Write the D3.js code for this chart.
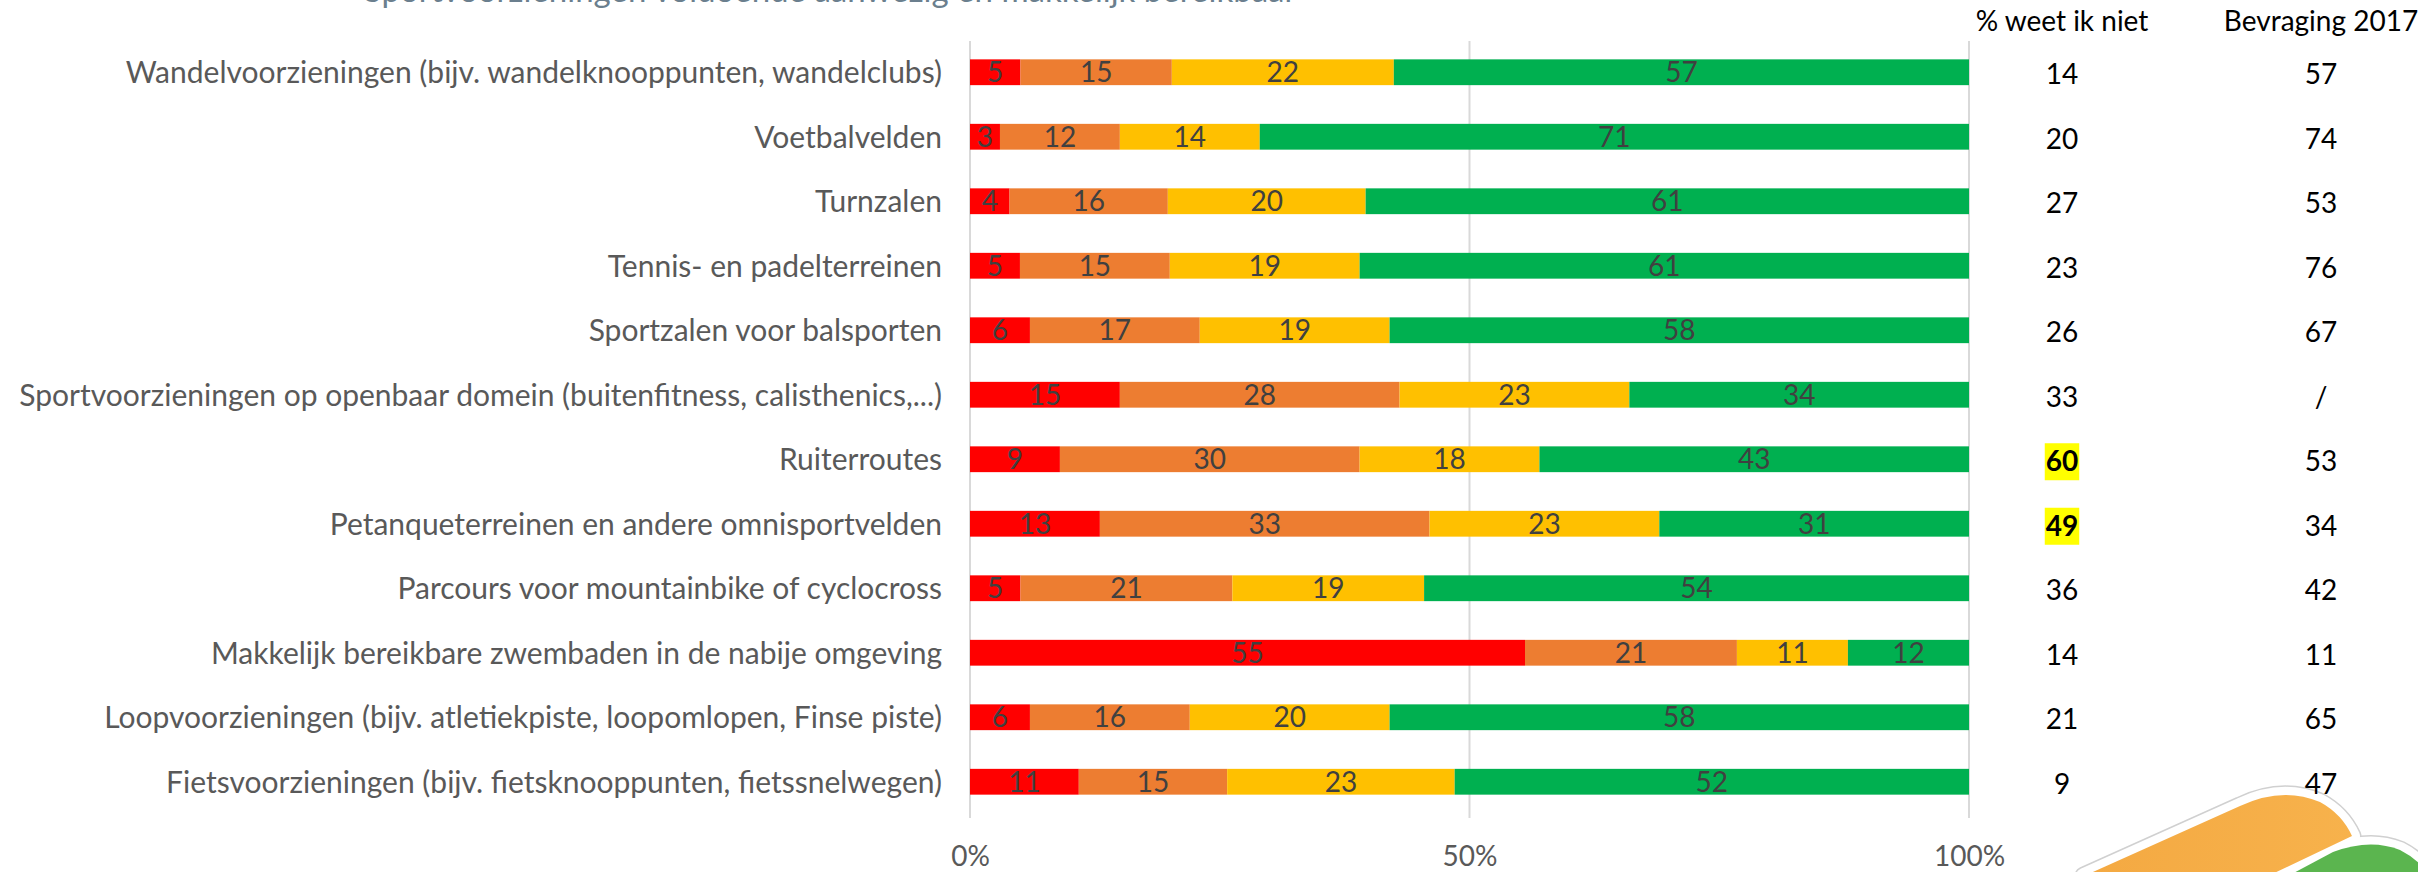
<!DOCTYPE html>
<html>
<head>
<meta charset="utf-8">
<script src="https://cdn.jsdelivr.net/npm/d3@7/dist/d3.min.js"></script>
<style>
  html, body { margin: 0; padding: 0; background: #ffffff; }
  svg { display: block; }
  text { font-family: Lato, "Open Sans", "Liberation Sans", sans-serif; }
</style>
</head>
<body>
<svg id="chart" width="2418" height="872"></svg>
<script>
// ---------- DATA ----------
const title = "Sportvoorzieningen voldoende aanwezig en makkelijk bereikbaar";
const categories = [
  "Wandelvoorzieningen (bijv. wandelknooppunten, wandelclubs)",
  "Voetbalvelden",
  "Turnzalen",
  "Tennis- en padelterreinen",
  "Sportzalen voor balsporten",
  "Sportvoorzieningen op openbaar domein (buitenfitness, calisthenics,...)",
  "Ruiterroutes",
  "Petanqueterreinen en andere omnisportvelden",
  "Parcours voor mountainbike of cyclocross",
  "Makkelijk bereikbare zwembaden in de nabije omgeving",
  "Loopvoorzieningen (bijv. atletiekpiste, loopomlopen, Finse piste)",
  "Fietsvoorzieningen (bijv. fietsknooppunten, fietssnelwegen)"
];
const seriesKeys = ["helemaalNiet", "eerderNiet", "eerderWel", "helemaalWel"];
const helemaalNiet = [5, 3, 4, 5, 6, 15, 9, 13, 5, 55, 6, 11];
const eerderNiet   = [15, 12, 16, 15, 17, 28, 30, 33, 21, 21, 16, 15];
const eerderWel    = [22, 14, 20, 19, 19, 23, 18, 23, 19, 11, 20, 23];
const helemaalWel  = [57, 71, 61, 61, 58, 34, 43, 31, 54, 12, 58, 52];
const weetIkNiet   = [14, 20, 27, 23, 26, 33, 60, 49, 36, 14, 21, 9];
const weetHighlight = [false, false, false, false, false, false, true, true, false, false, false, false];
const bevraging2017 = ["57", "74", "53", "76", "67", "/", "53", "34", "42", "11", "65", "47"];
const xTickValues = [0, 0.5, 1];
const xTickLabels = ["0%", "50%", "100%"];
const colHeaders = ["% weet ik niet", "Bevraging 2017"];

// ---------- STYLE / LAYOUT ----------
const colors = { helemaalNiet: "#FF0000", eerderNiet: "#ED7D31", eerderWel: "#FFC000", helemaalWel: "#00B050" };
const svg = d3.select("#chart");

// decorative logo (bottom right), drawn first so the texts stay on top
const defs = svg.append("defs");
const og = defs.append("linearGradient").attr("id", "og").attr("x1", "0").attr("x2", "1");
og.append("stop").attr("offset", "0").attr("stop-color", "#F4A942");
og.append("stop").attr("offset", "1").attr("stop-color", "#F7B24C");
const logo = svg.append("g");
const orangePath = "M2084,876 L2240,806 Q2282,786 2320,802 Q2342,814 2352,836 L2268,876 Z";
const greenPath = "M2288,876 L2333,852 Q2370,838 2400,850 Q2418,859 2430,876 Z";
[orangePath, greenPath].forEach(p => {
  logo.append("path").attr("d", p).attr("fill", "none").attr("stroke", "#d0d0d0").attr("stroke-width", 19).attr("stroke-linejoin", "round");
});
[orangePath, greenPath].forEach(p => {
  logo.append("path").attr("d", p).attr("fill", "#fff").attr("stroke", "#ffffff").attr("stroke-width", 16).attr("stroke-linejoin", "round");
});
logo.append("path").attr("d", orangePath).attr("fill", "url(#og)");
logo.append("path").attr("d", greenPath).attr("fill", "#5BB54F");

const rows = categories.map((c, i) => ({
  cat: c,
  helemaalNiet: helemaalNiet[i], eerderNiet: eerderNiet[i],
  eerderWel: eerderWel[i], helemaalWel: helemaalWel[i]
}));

const x = d3.scaleLinear().domain([0, 1]).range([970, 1969]);
const y = d3.scaleBand().domain(categories).range([40, 814]).paddingInner(0.6).paddingOuter(0.3);

// title (cut off at the top in the original)
svg.append("text")
  .attr("x", 364).attr("y", 2)
  .attr("font-size", 33)
  .attr("fill", "#6b7f8e")
  .text(title);

// gridlines
svg.append("g").selectAll("line")
  .data(xTickValues).join("line")
  .attr("x1", d => x(d)).attr("x2", d => x(d))
  .attr("y1", 41).attr("y2", 818)
  .attr("stroke", "#d9d9d9").attr("stroke-width", 2);

// x axis labels
const xAxis = d3.axisBottom(x).tickValues(xTickValues).tickFormat((d, i) => xTickLabels[i]).tickSize(0).tickPadding(0);
const gx = svg.append("g").attr("transform", "translate(0,846)").call(xAxis);
gx.select(".domain").remove();
gx.selectAll("text")
  .attr("font-family", "Lato, 'Open Sans', sans-serif")
  .attr("font-size", 28).attr("fill", "#595959").attr("dy", "0.71em");

// stacked bars
const stack = d3.stack().keys(seriesKeys).offset(d3.stackOffsetExpand);
const stacked = stack(rows);

const layers = svg.append("g").selectAll("g")
  .data(stacked).join("g")
  .attr("fill", d => colors[d.key]);

layers.selectAll("rect")
  .data(d => d.map(p => ({ p, key: d.key })))
  .join("rect")
  .attr("x", d => x(d.p[0]))
  .attr("width", d => x(d.p[1]) - x(d.p[0]))
  .attr("y", d => y(d.p.data.cat))
  .attr("height", y.bandwidth());

// data labels
const labels = svg.append("g");
stacked.forEach(layer => {
  labels.selectAll(null)
    .data(layer).join("text")
    .attr("x", p => (x(p[0]) + x(p[1])) / 2)
    .attr("y", p => y(p.data.cat) + y.bandwidth() / 2)
    .attr("dy", "0.36em")
    .attr("text-anchor", "middle")
    .attr("font-size", 28)
    .attr("fill", "#404040")
    .text(p => p.data[layer.key]);
});

// category labels
const yAxis = d3.axisLeft(y).tickSize(0).tickPadding(0);
const gy = svg.append("g").attr("transform", "translate(942,0)").call(yAxis);
gy.select(".domain").remove();
gy.selectAll("text")
  .attr("font-family", "Lato, 'Open Sans', sans-serif")
  .attr("font-size", 30).attr("fill", "#595959").attr("dy", "0.36em");

// right-hand columns
const colX = [2062, 2321];
svg.append("g").selectAll("text")
  .data(colHeaders).join("text")
  .attr("x", (d, i) => colX[i]).attr("y", 31)
  .attr("text-anchor", "middle")
  .attr("font-size", 28).attr("fill", "#000000")
  .text(d => d);

const cy = c => y(c) + y.bandwidth() / 2 + 2;

const weetG = svg.append("g");
categories.forEach((c, i) => {
  const t = weetG.append("text")
    .attr("x", colX[0]).attr("y", cy(c))
    .attr("dy", "0.36em")
    .attr("text-anchor", "middle")
    .attr("font-size", 28)
    .attr("font-weight", weetHighlight[i] ? "bold" : "normal")
    .attr("fill", "#000000")
    .text(weetIkNiet[i]);
  if (weetHighlight[i]) {
    const bb = t.node().getBBox();
    weetG.insert("rect", "text")
      .attr("x", bb.x - 1).attr("width", bb.width + 2)
      .attr("y", cy(c) - 18).attr("height", 37)
      .attr("fill", "#FFFF00");
  }
});

svg.append("g").selectAll("text")
  .data(categories).join("text")
  .attr("x", colX[1]).attr("y", c => cy(c))
  .attr("dy", "0.36em")
  .attr("text-anchor", "middle")
  .attr("font-size", 28).attr("fill", "#000000")
  .text((c, i) => bevraging2017[i]);
</script>
</body>
</html>
